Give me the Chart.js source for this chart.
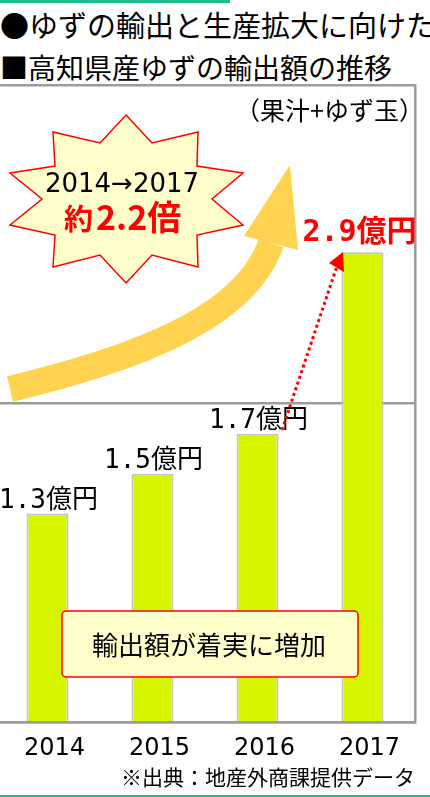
<!DOCTYPE html>
<html><head><meta charset="utf-8">
<script src="https://cdn.jsdelivr.net/npm/chart.js@4/dist/chart.umd.min.js"></script>
<style>
html,body{margin:0;padding:0;background:#fff;}
body{width:430px;height:797px;overflow:hidden;position:relative;font-family:"Noto Sans CJK JP","Noto Sans",sans-serif;color:#000;}
.abs{position:absolute;white-space:nowrap;}
#topline{left:0;top:0;width:230px;height:3px;background:#1dc08c;}
#botline{left:0;top:795px;width:430px;height:2px;background:#1dc08c;}
#title{left:0;top:10px;font-size:29px;line-height:29px;}
#subtitle{left:0;top:53px;font-size:28px;line-height:28px;}
#wrap{left:-5px;top:80px;width:425px;height:695px;}
#deco{position:absolute;left:0;top:0;pointer-events:none;}
#note{right:15px;top:766px;font-size:21px;line-height:21px;}
</style>
</head>
<body>
<div id="topline" class="abs"></div>
<div id="title" class="abs">●ゆずの輸出と生産拡大に向けた</div>
<div id="subtitle" class="abs">■高知県産ゆずの輸出額の推移</div>
<div id="wrap" class="abs"><canvas id="c" width="425" height="695"></canvas></div>
<svg id="deco" width="430" height="797" xmlns="http://www.w3.org/2000/svg">
  <text x="424" y="120" text-anchor="end" font-family="Noto Sans CJK JP" font-size="25" fill="#000">（果汁+ゆず玉）</text>
  <path d="M10,389 C130,360 245,320 271,243" stroke="#ffd250" stroke-width="26" fill="none"/>
  <polygon points="290,165 244,236 298,250" fill="#ffd250"/>
  <polygon points="126,115 152,143 198,132 197,166 243,173 212,199 243,225 197,235 198,267 152,255 126,283 100,255 53,267 55,235 10,225 42,199 10,173 55,166 53,132 100,143" fill="#ffffcc" stroke="#ff0000" stroke-width="1.5" stroke-linejoin="miter"/>
  <text x="122" y="192" text-anchor="middle" font-family="DejaVu Sans" font-size="26" fill="#000">2014→2017</text>
  <text x="64" y="230" font-family="Noto Sans CJK JP" font-weight="700" fill="#ff0000"><tspan font-size="29">約</tspan><tspan font-size="34" dx="3">2.2倍</tspan></text>
  <line x1="282" y1="430" x2="337" y2="266" stroke="#ff0000" stroke-width="3" stroke-dasharray="3 3"/>
  <polygon points="343,252 329,263 344,272" fill="#ff0000"/>
  <rect x="62" y="611" width="296" height="66" rx="4" ry="4" fill="#ffffcc" stroke="#ff0000" stroke-width="1.5"/>
  <text x="209" y="655" text-anchor="middle" font-family="Noto Sans CJK JP" font-size="26" fill="#000">輸出額が着実に増加</text>
</svg>
<div id="note" class="abs">※出典：地産外商課提供データ</div>
<div id="botline" class="abs"></div>
<script>
// ---- data ----
const categories = ['2014', '2015', '2016', '2017'];
const exportValues = [1.31, 1.56, 1.81, 2.95];      // 億円 (bar heights)
const valueLabels = ['1.3億円', '1.5億円', '1.7億円', '2.9億円'];
const yTickValues = [0, 2, 4];
const highlightIndex = 3;

const valueLabelPlugin = {
  id: 'valueLabels',
  afterDatasetsDraw(chart) {
    const ctx = chart.ctx;
    const meta = chart.getDatasetMeta(0);
    meta.data.forEach((bar, i) => {
      const hl = i === highlightIndex;
      ctx.save();
      ctx.font = hl ? 'bold 30px "DejaVu Sans Mono", "Noto Sans CJK JP"'
                    : '26px "DejaVu Sans Mono", "Noto Sans CJK JP"';
      ctx.fillStyle = hl ? '#ff0000' : '#000000';
      ctx.textAlign = 'center';
      ctx.textBaseline = 'alphabetic';
      ctx.fillText(valueLabels[i], bar.x + (hl ? -3 : 1), bar.y - (hl ? 11 : 6));
      ctx.restore();
    });
  }
};

new Chart(document.getElementById('c'), {
  type: 'bar',
  data: {
    labels: categories,
    datasets: [{
      data: exportValues,
      backgroundColor: '#d8f500',
      borderColor: '#c4c4c4',
      borderWidth: {top: 2, left: 2, right: 2, bottom: 0},
      borderSkipped: 'bottom',
      barPercentage: 0.4,
      categoryPercentage: 1
    }]
  },
  options: {
    responsive: false,
    animation: false,
    devicePixelRatio: 1,
    layout: {padding: {top: 5, left: 0, right: 5, bottom: 0}},
    plugins: {legend: {display: false}, tooltip: {enabled: false}},
    scales: {
      x: {
        grid: {display: false, drawTicks: false},
        border: {display: true, color: '#9c9c9c', width: 2.5, z: 1},
        ticks: {color: '#000', font: {family: 'DejaVu Sans', size: 24}, padding: 12, labelOffset: 7, maxRotation: 0, autoSkip: false}
      },
      y: {
        position: 'right',
        min: yTickValues[0],
        max: yTickValues[yTickValues.length - 1],
        ticks: {stepSize: yTickValues[1] - yTickValues[0], display: false},
        grid: {color: '#9c9c9c', lineWidth: 2.5, drawTicks: false},
        border: {display: true, color: '#9c9c9c', width: 2.5}
      }
    }
  },
  plugins: [valueLabelPlugin]
});
</script>
</body></html>
